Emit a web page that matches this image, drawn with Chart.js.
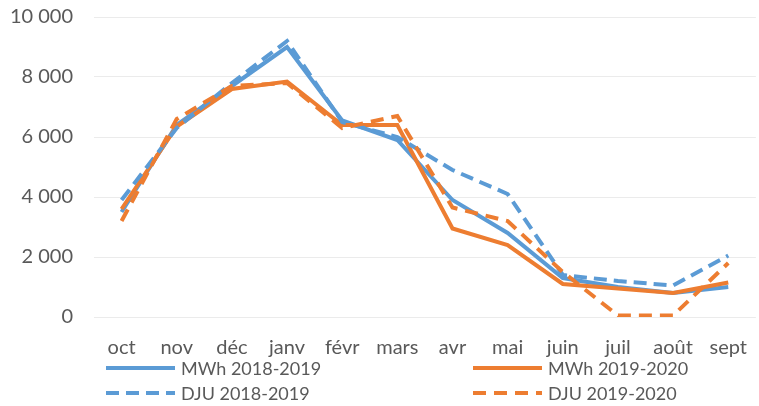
<!DOCTYPE html>
<html>
<head>
<meta charset="utf-8">
<script src="https://cdn.jsdelivr.net/npm/chart.js@4.4.1/dist/chart.umd.min.js"></script>
<style>
  html, body { margin: 0; padding: 0; background: #fff; overflow: hidden; }
  #wrap { position: relative; width: 766px; height: 406px; }
</style>
</head>
<body>
<div id="wrap"><canvas id="chart"></canvas></div>
<script>
// ---- data ----
const months = ["oct", "nov", "déc", "janv", "févr", "mars", "avr", "mai", "juin", "juil", "août", "sept"];
const mwh1819 = [3500, 6400, 7700, 9000, 6550, 5900, 3900, 2800, 1300, 1000, 800, 1000];
const mwh1920 = [3600, 6350, 7600, 7850, 6400, 6400, 2950, 2400, 1100, 950, 800, 1150];
const dju1819 = [3900, 6300, 7800, 9200, 6500, 6000, 4900, 4100, 1400, 1200, 1050, 2050];
const dju1920 = [3200, 6600, 7700, 7800, 6300, 6700, 3650, 3200, 1500, 50, 50, 1800];
const yTicks = [0, 2000, 4000, 6000, 8000, 10000];

const BLUE = "#5b9bd5";
const ORANGE = "#ed7d31";
const TXT = "#595959";

function fmt(v) {
  return v.toLocaleString("fr-FR").replace(/\u202f|\u00a0/g, " ");
}

// legend in two columns, drawn on the canvas
const legendPlugin = {
  id: "twoColLegend",
  afterDraw(chart) {
    const ctx = chart.ctx;
    const cols = [106, 473];
    const rows = [368, 393];
    ctx.save();
    ctx.font = "18px Lato";
    ctx.textBaseline = "middle";
    chart.data.datasets.forEach((ds, i) => {
      const x = cols[i % 2];
      const y = rows[Math.floor(i / 2)];
      ctx.strokeStyle = ds.borderColor;
      ctx.lineWidth = 4;
      ctx.setLineDash(ds.borderDash || []);
      ctx.beginPath();
      ctx.moveTo(x, y);
      ctx.lineTo(x + 69, y);
      ctx.stroke();
      ctx.setLineDash([]);
      ctx.fillStyle = TXT;
      ctx.fillText(ds.label, x + 75, y + 1);
    });
    ctx.restore();
  }
};

function line(label, data, color, dash, order) {
  return {
    label: label,
    data: data,
    borderColor: color,
    backgroundColor: color,
    borderWidth: 4,
    borderDash: dash,
    pointRadius: 0,
    tension: 0,
    fill: false,
    order: order
  };
}

new Chart(document.getElementById("chart"), {
  type: "line",
  data: {
    labels: months,
    datasets: [
      line("MWh 2018-2019", mwh1819, BLUE, [], 4),
      line("MWh 2019-2020", mwh1920, ORANGE, [], 3),
      line("DJU 2018-2019", dju1819, BLUE, [13, 7], 2),
      line("DJU 2019-2020", dju1920, ORANGE, [13, 8], 1)
    ]
  },
  options: {
    responsive: true,
    maintainAspectRatio: false,
    animation: false,
    layout: { padding: { top: 17, left: 0, right: 0, bottom: 0 } },
    plugins: {
      legend: { display: false },
      tooltip: { enabled: false }
    },
    scales: {
      x: {
        offset: true,
        grid: { display: false, drawTicks: false },
        border: { display: false },
        ticks: { color: TXT, font: { family: "Lato", size: 20 }, padding: 19, maxRotation: 0, autoSkip: false },
        afterFit(s) { s.height = 89; }
      },
      y: {
        min: 0,
        max: 10000,
        afterBuildTicks(s) { s.ticks = yTicks.map(v => ({ value: v })); },
        grid: { color: "#ebebeb", lineWidth: 1, drawTicks: false },
        border: { display: false },
        ticks: { color: TXT, font: { family: "Lato", size: 20 }, padding: 21, callback: v => fmt(v) },
        afterFit(s) {
          s.width = 94;
          s.paddingTop = 0;
          s.paddingBottom = 0;
        }
      }
    }
  },
  plugins: [legendPlugin]
});
</script>
</body>
</html>
